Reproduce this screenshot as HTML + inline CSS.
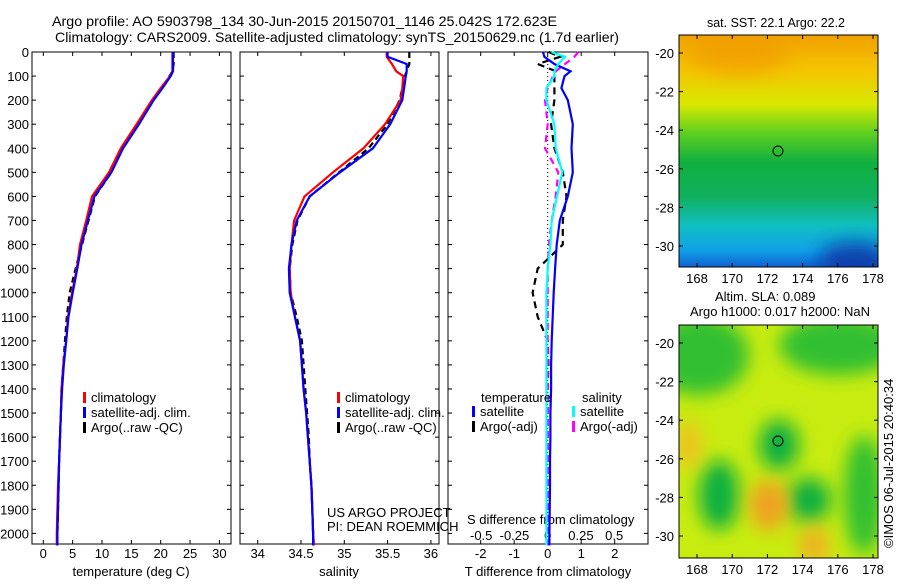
<!DOCTYPE html>
<html><head><meta charset="utf-8"><style>
body{margin:0;background:#fff}
svg text{font-family:"Liberation Sans",sans-serif;font-size:13px;fill:#000}
</style></head><body>
<svg id="c" width="900" height="580" viewBox="0 0 900 580" xmlns="http://www.w3.org/2000/svg">
<defs>
<linearGradient id="sst" x1="0" y1="0" x2="0" y2="1">
<stop offset="0" stop-color="#f0a000"/><stop offset="0.15" stop-color="#f5c400"/><stop offset="0.3" stop-color="#d8e800"/>
<stop offset="0.42" stop-color="#60d020"/><stop offset="0.55" stop-color="#10b040"/><stop offset="0.7" stop-color="#10b060"/>
<stop offset="0.82" stop-color="#10c0c0"/><stop offset="0.93" stop-color="#10a0e8"/><stop offset="1" stop-color="#1060d0"/>
</linearGradient>
<filter id="bl" x="-100%" y="-100%" width="300%" height="300%"><feGaussianBlur stdDeviation="9"/></filter>
</defs>
<text x="52" y="26" textLength="505" lengthAdjust="spacingAndGlyphs" style="font-size:14px">Argo profile: AO 5903798_134 30-Jun-2015 20150701_1146 25.042S 172.623E</text>
<text x="55" y="42" textLength="564" lengthAdjust="spacingAndGlyphs" style="font-size:14px">Climatology: CARS2009. Satellite-adjusted climatology: synTS_20150629.nc (1.7d earlier)</text>
<g id="p1"></g>
<g id="p2"></g>
<g id="p3"></g>
<g>
<text x="707" y="27" textLength="138" lengthAdjust="spacingAndGlyphs">sat. SST: 22.1 Argo: 22.2</text>
<svg x="679" y="35" width="199" height="232" overflow="hidden">
<rect width="199" height="232" fill="url(#sst)"/>
<ellipse cx="60" cy="20" rx="50" ry="20" fill="#f09800" opacity="0.6" filter="url(#bl)"/>
<ellipse cx="175" cy="225" rx="35" ry="18" fill="#0830a0" opacity="0.8" filter="url(#bl)"/>
</svg>
<circle cx="778" cy="151" r="5" fill="none" stroke="#000"/>
<rect x="679" y="35" width="199" height="232" fill="none" stroke="#000"/>
</g>
<g>
<text x="715" y="301">Altim. SLA: 0.089</text>
<text x="690" y="316">Argo h1000: 0.017 h2000: NaN</text>
<svg x="679" y="325" width="199" height="233" overflow="hidden">
<rect width="199" height="233" fill="#c8ec10"/>
<ellipse cx="20" cy="30" rx="50" ry="40" fill="#30c030" filter="url(#bl)"/>
<ellipse cx="160" cy="20" rx="60" ry="30" fill="#30c030" filter="url(#bl)"/>
<ellipse cx="100" cy="120" rx="20" ry="25" fill="#10b040" filter="url(#bl)"/>
<ellipse cx="40" cy="170" rx="20" ry="35" fill="#10b040" filter="url(#bl)"/>
<ellipse cx="130" cy="175" rx="22" ry="22" fill="#10b040" filter="url(#bl)"/>
<ellipse cx="185" cy="170" rx="20" ry="60" fill="#30c030" filter="url(#bl)"/>
<ellipse cx="90" cy="180" rx="20" ry="25" fill="#f0a020" filter="url(#bl)"/>
<ellipse cx="10" cy="120" rx="12" ry="25" fill="#f0c020" filter="url(#bl)"/>
<ellipse cx="135" cy="220" rx="15" ry="20" fill="#f0b020" filter="url(#bl)"/>
</svg>
<circle cx="778" cy="441" r="5" fill="none" stroke="#000"/>
<rect x="679" y="325" width="199" height="233" fill="none" stroke="#000"/>
</g>
<text transform="translate(893,548) rotate(-90)">©IMOS 06-Jul-2015 20:40:34</text>
<text x="327" y="517">US ARGO PROJECT</text>
<text x="327" y="531">PI: DEAN ROEMMICH</text>
</svg>
<script>
const NS="http://www.w3.org/2000/svg";
const depths=[0,20,50,80,100,150,200,300,400,500,600,700,800,900,1000,1100,1200,1300,1400,1500,1600,1700,1800,1900,2000,2050];
const tempClim=[22.0,22.0,22.0,22.0,21.6,20.0,18.5,15.9,13.2,11.2,8.3,7.3,6.25,5.7,4.9,4.2,3.9,3.4,3.1,3.0,2.85,2.7,2.5,2.4,2.3,2.3];
const tempSat=[22.1,22.1,22.1,22.1,21.7,20.3,18.8,16.3,13.6,11.6,8.7,7.6,6.5,5.8,5.0,4.3,3.9,3.5,3.2,3.0,2.85,2.7,2.6,2.5,2.4,2.4];
const tempArgo=[22.2,22.2,22.2,22.0,21.5,20.2,18.7,16.1,13.5,11.6,8.8,7.7,6.6,5.5,4.5,4.0,3.7,3.4,3.1,3.0,2.85,2.7,2.6,2.5,2.4,2.4];
const salClim=[35.49,35.49,35.55,35.6,35.68,35.67,35.65,35.47,35.22,34.87,34.54,34.42,34.39,34.37,34.38,34.43,34.49,34.51,34.53,34.56,34.58,34.6,34.62,34.63,34.64,34.65];
const salSat=[35.5,35.5,35.72,35.72,35.71,35.69,35.67,35.53,35.33,34.95,34.6,34.45,34.39,34.36,34.37,34.43,34.49,34.51,34.53,34.56,34.58,34.6,34.62,34.63,34.64,34.64];
const salArgo=[35.75,35.75,35.75,35.72,35.7,35.67,35.64,35.5,35.28,34.94,34.6,34.46,34.4,34.37,34.38,34.45,34.51,34.53,34.55,34.57,34.59,34.6,34.62,34.63,34.64,34.64];
const dTsat=[-0.14,-0.1,0.2,0.68,0.5,0.41,0.6,0.75,0.71,0.75,0.6,0.36,0.27,0.22,0.18,0.15,0.12,0.1,0.1,0.08,0.08,0.07,0.07,0.06,0.05,0.05];
const dTargo=[0.03,0.37,-0.3,0.25,0.2,0.2,0.2,0.1,0.2,0.45,0.56,0.45,0.45,-0.3,-0.45,-0.3,0.0,0.02,0.0,0.0,0.0,0.0,0.0,0.0,0.0,0.0];
const dSsat=[0.028,0.13,0.08,0.05,0.05,-0.01,-0.01,0.05,0.06,0.11,0.07,0.03,0.02,0.0,-0.01,-0.01,-0.01,-0.01,-0.01,-0.01,-0.01,-0.01,-0.01,-0.01,-0.01,-0.01];
const dSargo=[0.23,0.2,0.13,0.06,0.04,0.0,-0.02,0.0,-0.02,0.08,0.06,0.03,0.01,0.0,0.0,0.0,0.0,0.0,0.0,0.0,0.0,0.0,0.0,0.0,0.0,0.0];
const depthTicks=[0,100,200,300,400,500,600,700,800,900,1000,1100,1200,1300,1400,1500,1600,1700,1800,1900,2000];
const tempTicks=[0,5,10,15,20,25,30];
const salTicks=["34","34.5","35","35.5","36"];
const dTTicks=[-2,-1,0,1,2];
const dSTicks=["-0.5","-0.25","0","0.25","0.5"];
const latTicks=[-20,-22,-24,-26,-28,-30];
const lonTicks=[168,170,172,174,176,178];

const yD=d=>52+d*0.2407;
function el(t,a,p){const e=document.createElementNS(NS,t);for(const k in a)e.setAttribute(k,a[k]);p.appendChild(e);return e;}
function txt(p,x,y,s,anchor){const t=el("text",{x:x,y:y,"text-anchor":anchor||"start"},p);t.textContent=s;return t;}
function frame(g,x0,x1){el("rect",{x:x0,y:52,width:x1-x0,height:492,fill:"none",stroke:"#000"},g);}
function line(g,xs,xf,color,dash,name){
  const pts=xs.map((v,i)=>xf(v).toFixed(1)+","+yD(depths[i]).toFixed(1)).join(" ");
  const p=el("polyline",{points:pts,fill:"none",stroke:color,"stroke-width":2.2},g);
  if(dash)p.setAttribute("stroke-dasharray",dash);
  
  
}
function xticks(g,vals,xf,y,lab){vals.forEach(v=>{const x=xf(+v);el("line",{x1:x,y1:544,x2:x,y2:540,stroke:"#000"},g);el("line",{x1:x,y1:52,x2:x,y2:56,stroke:"#000"},g);if(lab)txt(g,x,y,String(v),"middle");});}
function yticks(g,x0,x1,lab){depthTicks.forEach(d=>{const y=yD(d);el("line",{x1:x0,y1:y,x2:x0+4,y2:y,stroke:"#000"},g);el("line",{x1:x1,y1:y,x2:x1-4,y2:y,stroke:"#000"},g);if(lab)txt(g,x0-3,y+5,String(d),"end");});}
function legend(g,x,y,items){items.forEach((it,i)=>{el("rect",{x:x,y:y+i*15-10,width:3,height:11,fill:it[1]},g);const t=txt(g,x+8,y+i*15,it[0]);});}

const p1=document.getElementById("p1"),p2=document.getElementById("p2"),p3=document.getElementById("p3");
const xT=v=>43.3+v*5.87;
frame(p1,32,231);yticks(p1,32,231,true);xticks(p1,tempTicks,xT,558,true);
txt(p1,131,576,"temperature (deg C)","middle");
line(p1,tempArgo,xT,"#000","6,4","argo-temperature-line");
line(p1,tempClim,xT,"#f00",null,"climatology-temperature-line");
line(p1,tempSat,xT,"#00f",null,"satellite-temperature-line");
legend(p1,83,402,[["climatology","#f00"],["satellite-adj. clim.","#00f"],["Argo(..raw -QC)","#000"]]);
const xS=v=>257.7+(v-34)*86.6;
frame(p2,240,439);yticks(p2,240,439,false);xticks(p2,salTicks,xS,558,true);
txt(p2,339,576,"salinity","middle");
line(p2,salArgo,xS,"#000","6,4","argo-salinity-line");
line(p2,salClim,xS,"#f00",null,"climatology-salinity-line");
line(p2,salSat,xS,"#00f",null,"satellite-salinity-line");
legend(p2,337,402,[["climatology","#f00"],["satellite-adj. clim.","#00f"],["Argo(..raw -QC)","#000"]]);
const xdT=v=>547.7+v*33.5, xdS=v=>547.7+v*133;
frame(p3,448,648);yticks(p3,448,648,false);xticks(p3,dTTicks,xdT,558,true);
dSTicks.forEach(v=>txt(p3,xdS(+v),540,v,"middle"));
txt(p3,548,576,"T difference from climatology","middle");
txt(p3,467,524,"S difference from climatology");
el("line",{x1:xdT(0),y1:52,x2:xdT(0),y2:544,stroke:"#000","stroke-dasharray":"1,3"},p3);
line(p3,dTargo,xdT,"#000","7,5","argo-temperature-diff-line");
line(p3,dSargo,xdS,"#f0f","7,5","argo-salinity-diff-line");
line(p3,dTsat,xdT,"#00f",null,"satellite-temperature-diff-line");
line(p3,dSsat,xdS,"#0ff",null,"satellite-salinity-diff-line");
txt(p3,481,402,"temperature");txt(p3,582,402,"salinity");
legend(p3,472,416,[["satellite","#00f"],["Argo(-adj)","#000"]]);
legend(p3,572,416,[["satellite","#0ff"],["Argo(-adj)","#f0f"]]);
const svg=document.getElementById("c");
function mapAxes(top,bot,lat20){
  const g=el("g",{},svg);
  
  
  latTicks.forEach(l=>{const y=lat20+(-20-l)*19.3;el("line",{x1:679,y1:y,x2:683,y2:y,stroke:"#000"},g);el("line",{x1:878,y1:y,x2:874,y2:y,stroke:"#000"},g);txt(g,674,y+5,String(l),"end");});
  lonTicks.forEach(l=>{const x=697+(l-168)*17.6;el("line",{x1:x,y1:top,x2:x,y2:top+4,stroke:"#000"},g);el("line",{x1:x,y1:bot,x2:x,y2:bot-4,stroke:"#000"},g);txt(g,x,bot+16,String(l),"middle");});
}
mapAxes(35,267,53);mapAxes(325,558,343);
</script>
</body></html>
